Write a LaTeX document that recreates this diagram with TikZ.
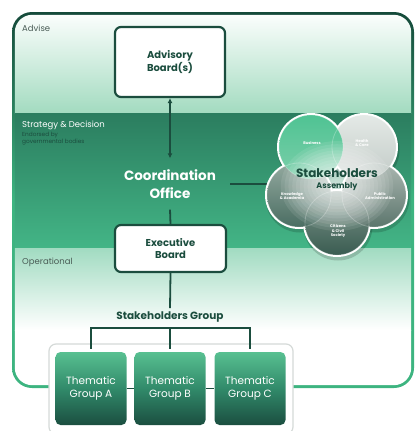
\documentclass[tikz,border=0pt]{standalone}
\usepackage{fontspec}
\setmainfont{Poppins}
\usetikzlibrary{arrows.meta}
\definecolor{dk}{HTML}{1B4D3E}
\definecolor{frdark}{HTML}{154A3A}
\definecolor{frgreen}{HTML}{3DB480}
\definecolor{advbot}{HTML}{A3DBC0}
\definecolor{advmid}{HTML}{E6F5EE}
\definecolor{sttop}{HTML}{2B7D5F}
\definecolor{stbot}{HTML}{43B586}
\definecolor{optop}{HTML}{A1DBC1}
\definecolor{tgtop}{HTML}{58C091}
\definecolor{tgmid}{HTML}{318A6A}
\definecolor{tgbot}{HTML}{1B4E40}
\definecolor{lbl}{HTML}{4A5C56}
\definecolor{contb}{HTML}{D5DAD8}
\definecolor{pctop}{HTML}{7F978D}\definecolor{pcbot}{HTML}{3A5C51}
\definecolor{pktop}{HTML}{93A99F}\definecolor{pkbot}{HTML}{4A6D62}
\definecolor{pptop}{HTML}{AAB6B0}\definecolor{ppbot}{HTML}{5C766D}
\definecolor{phtop}{HTML}{E4E9E6}\definecolor{phbot}{HTML}{C2CBC7}
\definecolor{pbtop}{HTML}{4FC393}\definecolor{pbbot}{HTML}{7CCFAA}
\begin{document}
\begin{tikzpicture}[x=1pt,y=-1pt,
  box/.style={draw=dk, line width=2.2pt, fill=white, rounded corners=6pt,
    font=\fontsize{10}{12.5}\selectfont\bfseries, text=dk, align=center},
  conn/.style={draw=dk, line width=1.8pt},
  tgrp/.style={rounded corners=5pt, top color=tgtop, bottom color=tgbot, middle color=tgmid,
    minimum width=71pt, minimum height=73pt, text=white, align=center,
    font=\fontsize{10.5}{13}\selectfont},
  petal/.style={circle, minimum size=64pt, inner sep=0pt},
  plab/.style={text=white, align=center, font=\fontsize{3.8}{4.6}\selectfont\bfseries, inner sep=0pt},
  bandlab/.style={anchor=west, inner sep=2pt, font=\fontsize{8.5}{10}\selectfont}]
\useasboundingbox (0,0) rectangle (416,431);
% frame
\shade[rounded corners=20pt, top color=frdark, bottom color=frgreen, middle color=frgreen]
  (12,12) rectangle (414,388);
\begin{scope}
  \clip[rounded corners=17.5pt] (14.8,14.8) rectangle (411.2,385.2);
  \shade[top color=white, middle color=advmid, bottom color=advbot] (10,10) rectangle (416,113);
  \shade[top color=sttop, bottom color=stbot] (10,113) rectangle (416,248);
  \shade[top color=optop, bottom color=white] (10,248) rectangle (416,330);
  \fill[white] (10,330) rectangle (416,390);
\end{scope}
% band labels
\node[bandlab, text=lbl] (lad) at (20,28) {Advise};
\node[bandlab, text=white] (lsd) at (20,125) {Strategy \& Decision};
\node[anchor=north west, inner sep=2pt, align=left, text=dk,
  font=\fontsize{5.8}{6.8}\selectfont] (lend) at (20,130) {Endorsed by\\governmental bodies};
\node[bandlab, text=lbl] (lop) at (20,262) {Operational};
% main nodes
\node[box, minimum width=110pt, minimum height=70pt] (adv) at (170,62) {Advisory\\Board(s)};
\node[text=white, align=center, inner xsep=14pt, inner ysep=11pt,
  font=\fontsize{13.5}{18}\selectfont\bfseries] (coord) at (170,184) {Coordination\\Office};
\node[box, minimum width=111pt, minimum height=47pt] (exec) at (170.5,248.5) {Executive\\Board};
\node[text=dk, font=\fontsize{10.5}{12}\selectfont\bfseries] (sgroup) at (170,317) {Stakeholders Group};
% stakeholders assembly flower
\coordinate (fl) at (337,184);
\draw[conn] (coord.east) -- (coord.east -| fl);
\foreach \px/\py in {311/147, 364/147, 299/195, 374/195, 337/223}{
  \fill[black, opacity=0.16] (\px+1,\py+3) circle (34.5);
}
\foreach \px/\py in {311/147, 364/147, 299/195, 374/195, 337/223}{
  \fill[white] (\px,\py) circle (34);
}
\node[petal, top color=pctop, bottom color=pcbot] (pc) at (337,223) {};
\node[petal, top color=pktop, bottom color=pkbot] (pk) at (299,195) {};
\node[petal, top color=pptop, bottom color=ppbot] (pp) at (374,195) {};
\node[petal, top color=phtop, bottom color=phbot] (ph) at (364,147) {};
\node[petal, top color=pbtop, bottom color=pbbot] (pb) at (311,147) {};
\foreach \k in {1,...,14}{
  \fill[white, opacity=0.09] (337,186) ellipse ({60-3.8*\k} and {48-3.1*\k});
}
\foreach \n in {pb,ph,pk,pp,pc}{
  \draw[white, opacity=0.25, line width=0.8pt] (\n) circle (32);
}
\node[text=dk, font=\fontsize{12}{14}\selectfont\bfseries, inner sep=0pt] (sa) at (337,173) {Stakeholders};
\node[text=dk, font=\fontsize{8}{10}\selectfont\bfseries, inner sep=0pt] (sa2) at (337,187) {Assembly};
\node[plab] (lb) at (312,143) {Business};
\node[plab] (lh) at (362,143) {Health\\\& Care};
\node[plab] (lk) at (292,196) {Knowledge\\\& Academia};
\node[plab] (lp) at (380,196) {Public\\Administration};
\node[plab] (lc) at (338,231) {Citizens\\\& Civil\\Society};
% connectors
\draw[conn, {Latex[length=5pt,width=5pt]}-{Latex[length=5pt,width=5pt]}] (adv.south) -- (coord.north);
\draw[conn] (coord.south) -- (exec.north);
\draw[conn] (exec.south) -- (sgroup.north);
% thematic groups
\node[draw=contb, fill=white, line width=1.2pt, rounded corners=7pt,
  minimum width=244pt, minimum height=90pt] (tcont) at (171,389) {};
\node[tgrp] (ta) at (91,388.5) {Thematic\\Group A};
\node[tgrp] (tb) at (170,388.5) {Thematic\\Group B};
\node[tgrp] (tc) at (250,388.5) {Thematic\\Group C};
\draw[conn] (ta.east) -- (tb.west);
\draw[conn] (tb.east) -- (tc.west);
\draw[conn] ([yshift=3pt]ta.north) -- ++(0,-21) -| ([yshift=3pt]tc.north);
\draw[conn] ([yshift=3pt]tb.north) -- ++(0,-21);
\end{tikzpicture}
\end{document}
